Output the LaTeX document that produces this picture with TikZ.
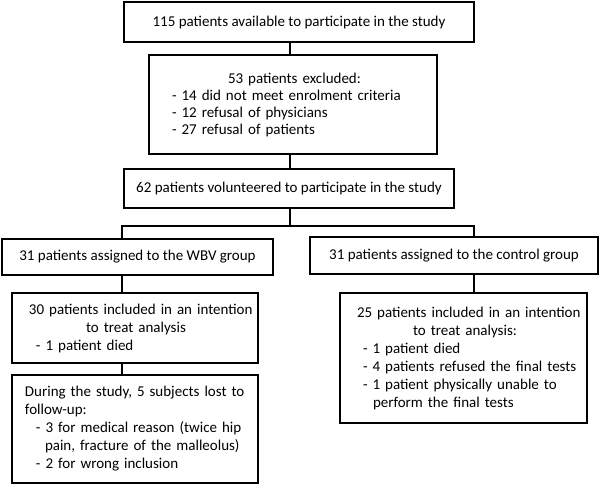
\documentclass[tikz,border=0pt]{standalone}
\usepackage{fontspec}
\setmainfont{Carlito}
\tikzset{
  box/.style={draw,line width=2.2pt,inner sep=0pt,font=\fontsize{15}{18}\selectfont},
  conn/.style={line width=2.2pt}
}
\begin{document}
\begin{tikzpicture}[x=1pt,y=-1pt]
\useasboundingbox (0,0) rectangle (600,485);
\node[box,minimum width=350,minimum height=40] (avail) at (299,22) {115 patients available to participate in the study};
\node[box,minimum width=288,minimum height=99,text width=288pt,align=left,font=\fontsize{15}{17}\selectfont] (excl) at (293,104.5) {\hspace*{79pt}53 patients excluded:\\\hspace*{23pt}- 14 did not meet enrolment criteria\\\hspace*{23pt}- 12 refusal of physicians\\\hspace*{23pt}- 27 refusal of patients};
\node[box,minimum width=330,minimum height=39] (volunt) at (289,188.5) {62 patients volunteered to participate in the study};
\node[box,minimum width=271,minimum height=36] (wbv) at (137.5,257) {31 patients assigned to the WBV group};
\node[box,minimum width=288,minimum height=37] (ctrl) at (454,255.5) {31 patients assigned to the control group};
\node[box,minimum width=246,minimum height=70,text width=246pt,align=left] (wbvitt) at (135,328) {\hspace*{17pt}30 patients included in an intention\\\hspace*{74pt}to treat analysis\\\hspace*{24pt}- 1 patient died};
\node[box,minimum width=246,minimum height=108,text width=246pt,align=left] (wbvlost) at (135,429) {\hspace*{13pt}During the study, 5 subjects lost to\\\hspace*{13pt}follow-up:\\\hspace*{24pt}- 3 for medical reason (twice hip\\\hspace*{33pt}pain, fracture of the malleolus)\\\hspace*{24pt}- 2 for wrong inclusion};
\node[box,minimum width=247,minimum height=130,text width=247pt,align=left] (ctrlitt) at (463.5,358) {\hspace*{17pt}25 patients included in an intention\\\hspace*{73pt}to treat analysis:\\\hspace*{23pt}- 1 patient died\\\hspace*{23pt}- 4 patients refused the final tests\\\hspace*{23pt}- 1 patient physically unable to\\\hspace*{33pt}perform the final tests};
\coordinate (jm) at (290,226);
\coordinate (jl) at (122,226);
\coordinate (jr) at (474,226);
\draw[conn] (avail.south -| jm) -- (excl.north -| jm);
\draw[conn] (excl.south -| jm) -- (volunt.north -| jm);
\draw[conn] (volunt.south -| jm) -- (jm);
\draw[conn] (jl |- wbv.north) -- (jl) -- (jr) -- (jr |- ctrl.north);
\draw[conn] (wbv.south -| jl) -- (wbvitt.north -| jl);
\draw[conn] (wbvitt.south -| jl) -- (wbvlost.north -| jl);
\draw[conn] (ctrl.south -| jr) -- (ctrlitt.north -| jr);
\end{tikzpicture}
\end{document}
